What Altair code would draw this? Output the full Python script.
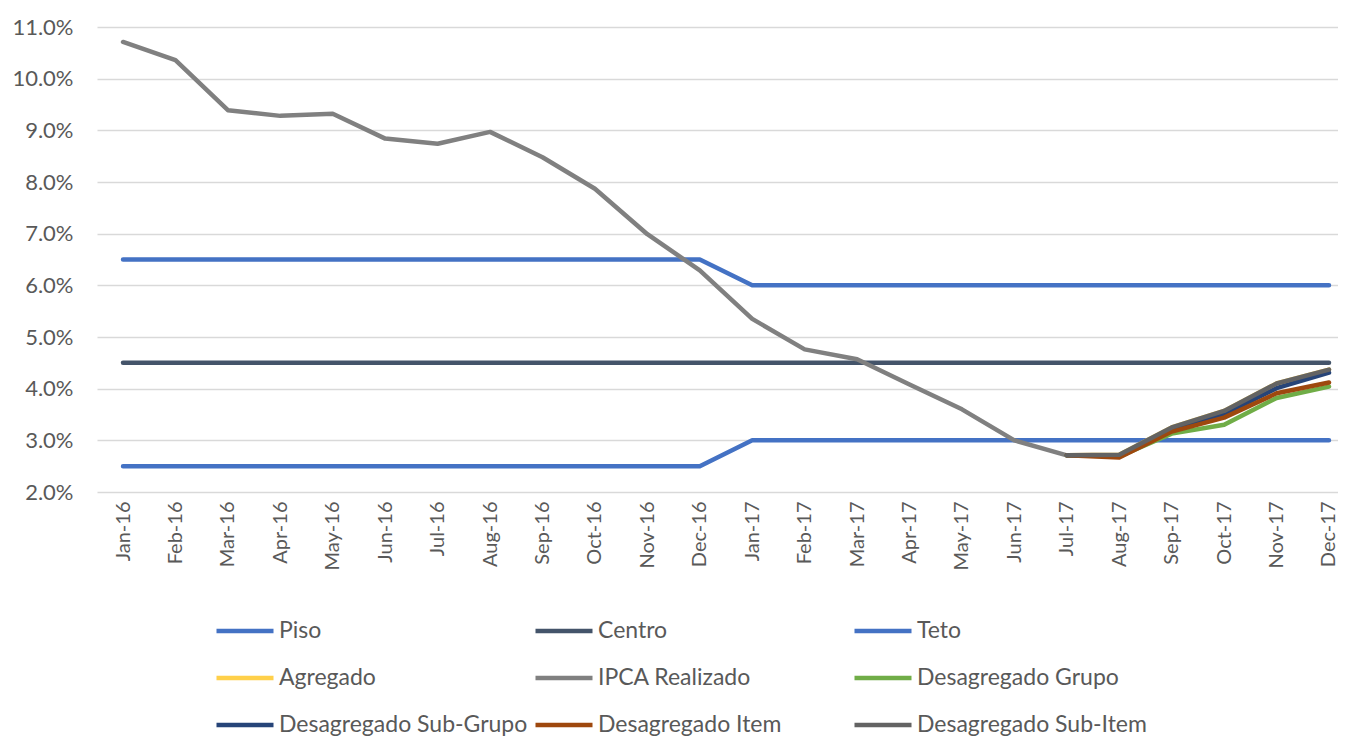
import altair as alt
import pandas as pd

months = ["Jan-16", "Feb-16", "Mar-16", "Apr-16", "May-16", "Jun-16", "Jul-16", "Aug-16",
          "Sep-16", "Oct-16", "Nov-16", "Dec-16", "Jan-17", "Feb-17", "Mar-17", "Apr-17",
          "May-17", "Jun-17", "Jul-17", "Aug-17", "Sep-17", "Oct-17", "Nov-17", "Dec-17"]

piso = [2.5] * 12 + [3.0] * 12
centro = [4.5] * 24
teto = [6.5] * 12 + [6.0] * 12
ipca = [10.71, 10.36, 9.39, 9.28, 9.32, 8.84, 8.74, 8.97, 8.48, 7.87, 6.99, 6.29,
        5.35, 4.76, 4.57, 4.08, 3.60, 3.00, 2.71] + [None] * 5
agregado = [None] * 18 + [2.71, 2.72, 3.25, 3.57, 4.10, 4.37]
grupo = [None] * 18 + [2.71, 2.69, 3.13, 3.30, 3.82, 4.04]
sub_grupo = [None] * 18 + [2.71, 2.70, 3.20, 3.51, 4.01, 4.31]
item = [None] * 18 + [2.71, 2.67, 3.17, 3.44, 3.91, 4.12]
sub_item = [None] * 18 + [2.71, 2.72, 3.25, 3.57, 4.10, 4.37]

series_names = ["Piso", "Centro", "Teto", "Agregado", "IPCA Realizado", "Desagregado Grupo",
                "Desagregado Sub-Grupo", "Desagregado Item", "Desagregado Sub-Item"]
series_values = [piso, centro, teto, agregado, ipca, grupo, sub_grupo, item, sub_item]
series_colors = ["#4472C4", "#44546A", "#4472C4", "#FFD04A", "#808080", "#70AD47",
                 "#264478", "#9E480E", "#636363"]

rows = []
for name, vals in zip(series_names, series_values):
    for m, v in zip(months, vals):
        if v is not None:
            rows.append({"Mês": m, "Série": name, "Valor": v / 100.0})
df = pd.DataFrame(rows)

FONT = "Lato"
GRAY = "#595959"

color = alt.Color(
    "Série:N",
    scale=alt.Scale(domain=series_names, range=series_colors),
    legend=alt.Legend(
        title=None,
        orient="none",
        direction="horizontal",
        legendX=117,
        legendY=573,
        columns=3,
        gridAlign="all",
        columnPadding=-2,
        rowPadding=4,
        symbolType="stroke",
        symbolSize=3249,
        symbolStrokeWidth=4.5,
        labelFont=FONT,
        labelFontSize=23,
        labelColor=GRAY,
        labelOffset=3,
        labelLimit=400,
    ),
)

x = alt.X(
    "Mês:O",
    sort=months,
    scale=alt.Scale(type="point", padding=0.334, align=0.743),
    axis=alt.Axis(
        title=None,
        labelAngle=-90,
        labelFont=FONT,
        labelFontSize=20,
        labelColor=GRAY,
        labelPadding=9,
        ticks=False,
        domain=False,
        grid=False,
    ),
)
y = alt.Y(
    "Valor:Q",
    scale=alt.Scale(domain=[0.02, 0.11], nice=False, zero=False),
    axis=alt.Axis(
        title=None,
        format=".1%",
        values=[0.02, 0.03, 0.04, 0.05, 0.06, 0.07, 0.08, 0.09, 0.10, 0.11],
        labelFont=FONT,
        labelFontSize=22,
        labelColor=GRAY,
        labelPadding=24,
        ticks=False,
        domain=False,
        grid=True,
        gridColor="#D9D9D9",
        gridWidth=1.5,
    ),
)

layers = []
for name in series_names:
    layers.append(
        alt.Chart(df)
        .transform_filter(alt.datum["Série"] == name)
        .mark_line(strokeWidth=4.5, strokeCap="round", strokeJoin="round")
        .encode(x=x, y=y, color=color)
    )

chart = (
    alt.layer(*layers)
    .properties(
        width=1241,
        height=465,
        autosize=alt.AutoSizeParams(type="none"),
        padding={"left": 89, "top": 19, "right": 0, "bottom": 245},
        background="white",
    )
    .configure_view(stroke=None)
)

chart.save("out.html", embed_options={"renderer": "svg", "actions": False})
